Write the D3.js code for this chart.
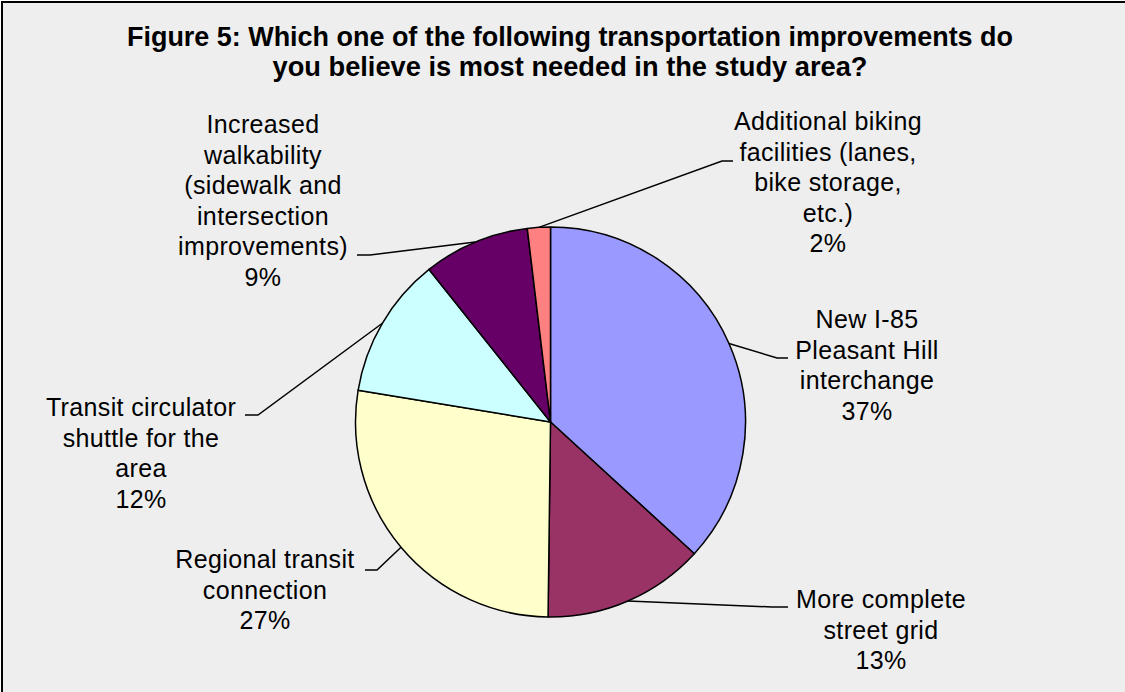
<!DOCTYPE html>
<html>
<head>
<meta charset="utf-8">
<script src="https://cdn.jsdelivr.net/npm/d3@7"></script>
<style>
  html, body { margin: 0; padding: 0; background: #fff; }
  svg { display: block; font-family: "Liberation Sans", Arial, sans-serif; }
</style>
</head>
<body>
<script>
// survey answers, clockwise from 12 o'clock
let categories = ['New I-85 Pleasant Hill interchange', 'More complete street grid', 'Regional transit connection',
  'Transit circulator shuttle for the area', 'Increased walkability (sidewalk and intersection improvements)',
  'Additional biking facilities (lanes, bike storage, etc.)'];
let shares = [36.8, 13.4, 27.4, 11.7, 8.8, 1.9];
let labelLines = [
  ['New I-85', 'Pleasant Hill', 'interchange'],
  ['More complete', 'street grid'],
  ['Regional transit', 'connection'],
  ['Transit circulator', 'shuttle for the', 'area'],
  ['Increased', 'walkability', '(sidewalk and', 'intersection', 'improvements)'],
  ['Additional biking', 'facilities (lanes,', 'bike storage,', 'etc.)']
];
let colors = ['#9999FF', '#993366', '#FFFFCC', '#CCFFFF', '#660066', '#FF8080'];
let titleLines = ['Figure 5: Which one of the following transportation improvements do',
  'you believe is most needed in the study area?'];

// where excel put the labels (text centre x, first baseline y, leader elbow + end)
let labelLayout = [
  {x: 867, y: 328, elbow: [777, 358], end: [788, 358]},
  {x: 881, y: 608, elbow: [772, 607], end: [788, 607]},
  {x: 265, y: 568, elbow: [377, 570], end: [365, 570]},
  {x: 141, y: 416, elbow: [258, 415], end: [245, 415]},
  {x: 263, y: 133, elbow: [370, 255], end: [357, 255]},
  {x: 828, y: 130, elbow: [722, 161], end: [733, 161]}
];

const width = 1125, height = 692;
const cx = 550.5, cy = 422, r = 195;
const lineH = 30.5;

const svg = d3.select('body').append('svg').attr('width', width).attr('height', height);

// frame
svg.append('rect').attr('x', 2).attr('y', 2).attr('width', 1140).attr('height', 700)
  .attr('fill', '#EEEEEE').attr('stroke', '#000').attr('stroke-width', 2);

// title
svg.selectAll('.title').data(titleLines).enter().append('text')
  .attr('class', 'title')
  .attr('x', 570).attr('y', (d, i) => 46 + i * 29.5)
  .attr('text-anchor', 'middle')
  .attr('font-size', 27).attr('font-weight', 'bold')
  .attr('textLength', (d, i) => i == 0 ? 886 : 595)
  .attr('lengthAdjust', 'spacingAndGlyphs')
  .text(d => d);

let pie = d3.pie().sort(null).value(d => d);
let arcs = pie(shares);
let arc = d3.arc().innerRadius(0).outerRadius(r);

const g = svg.append('g').attr('transform', 'translate(' + cx + ',' + cy + ')');
g.selectAll('.slice').data(arcs).enter().append('path')
  .attr('class', 'slice')
  .attr('d', arc)
  .attr('fill', (d, i) => colors[i])
  .attr('stroke', '#000').attr('stroke-width', 1.5).attr('stroke-linejoin', 'round');

// leader lines: from the rim at the mid angle, to elbow, then the short tail
let rimPoint = (d) => {
  let a = (d.startAngle + d.endAngle) / 2;
  return [cx + Math.sin(a) * r, cy - Math.cos(a) * r];
};
svg.selectAll('.leader').data(arcs).enter().append('polyline')
  .attr('class', 'leader')
  .attr('points', (d, i) => [rimPoint(d), labelLayout[i].elbow, labelLayout[i].end].map(p => p.join(',')).join(' '))
  .attr('fill', 'none').attr('stroke', '#000').attr('stroke-width', 1.5);

// labels
let labels = svg.selectAll('.lbl').data(arcs).enter().append('text')
  .attr('class', 'lbl')
  .attr('text-anchor', 'middle')
  .attr('font-size', 25).attr('letter-spacing', 0.35)
  .attr('fill', '#000');
labels.each(function(d, i) {
  let t = d3.select(this);
  let lines = labelLines[i].concat([Math.round(d.value) + '%']);
  lines.forEach((s, j) => {
    t.append('tspan').attr('x', labelLayout[i].x).attr('y', labelLayout[i].y + j * lineH).text(s);
  });
});
</script>
</body>
</html>
